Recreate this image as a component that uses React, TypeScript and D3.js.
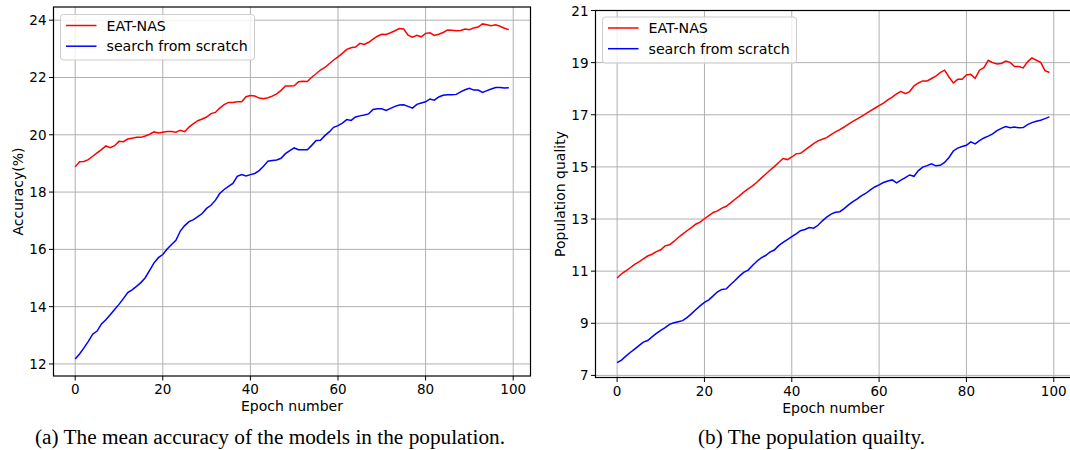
import * as d3 from "d3";
import React, { useEffect, useRef } from "react";

// epochs 0..99
const epochs = d3.range(0, 100);

// (a) mean accuracy of the models in the population
const accEatNas = [
  18.88, 19.06, 19.07, 19.13, 19.25, 19.37, 19.48, 19.61, 19.55, 19.62,
  19.77, 19.76, 19.85, 19.88, 19.91, 19.91, 19.96, 20.02, 20.10, 20.06,
  20.09, 20.11, 20.11, 20.09, 20.16, 20.11, 20.27, 20.39, 20.49, 20.55,
  20.62, 20.74, 20.78, 20.93, 21.05, 21.13, 21.13, 21.15, 21.15, 21.33,
  21.37, 21.35, 21.28, 21.26, 21.29, 21.35, 21.43, 21.55, 21.70, 21.70,
  21.71, 21.85, 21.87, 21.86, 22.01, 22.13, 22.26, 22.35, 22.48, 22.61,
  22.72, 22.84, 22.98, 23.04, 23.06, 23.19, 23.15, 23.23, 23.34, 23.44,
  23.51, 23.50, 23.56, 23.63, 23.71, 23.69, 23.48, 23.41, 23.47, 23.42,
  23.54, 23.56, 23.47, 23.51, 23.57, 23.66, 23.65, 23.63, 23.64, 23.69,
  23.67, 23.73, 23.76, 23.87, 23.84, 23.81, 23.84, 23.79, 23.72, 23.67,
];
const accScratch = [
  12.17, 12.35, 12.56, 12.79, 13.04, 13.15, 13.40, 13.54, 13.72, 13.90,
  14.08, 14.28, 14.49, 14.59, 14.71, 14.84, 15.01, 15.27, 15.53, 15.71,
  15.82, 16.01, 16.17, 16.32, 16.64, 16.83, 16.97, 17.04, 17.14, 17.25,
  17.43, 17.54, 17.71, 17.95, 18.09, 18.20, 18.30, 18.55, 18.61, 18.56,
  18.61, 18.65, 18.75, 18.90, 19.08, 19.10, 19.12, 19.18, 19.34, 19.45,
  19.54, 19.48, 19.48, 19.48, 19.63, 19.80, 19.81, 19.97, 20.10, 20.26,
  20.32, 20.41, 20.53, 20.50, 20.62, 20.66, 20.69, 20.73, 20.88, 20.91,
  20.91, 20.85, 20.92, 20.99, 21.04, 21.05, 20.99, 20.93, 21.06, 21.11,
  21.15, 21.25, 21.21, 21.32, 21.38, 21.40, 21.40, 21.41, 21.50, 21.57,
  21.62, 21.56, 21.56, 21.48, 21.54, 21.60, 21.65, 21.65, 21.63, 21.64,
];

// (b) population quality
const qualEatNas = [
  10.74, 10.90, 11.01, 11.13, 11.26, 11.36, 11.47, 11.58, 11.65, 11.75,
  11.82, 11.97, 12.01, 12.14, 12.29, 12.42, 12.55, 12.67, 12.80, 12.88,
  13.01, 13.13, 13.25, 13.31, 13.42, 13.49, 13.62, 13.76, 13.89, 14.03,
  14.16, 14.27, 14.41, 14.57, 14.72, 14.87, 15.01, 15.17, 15.32, 15.28,
  15.38, 15.50, 15.52, 15.64, 15.77, 15.89, 16.00, 16.06, 16.12, 16.24,
  16.34, 16.43, 16.53, 16.64, 16.75, 16.84, 16.94, 17.04, 17.15, 17.25,
  17.35, 17.45, 17.57, 17.68, 17.80, 17.90, 17.81, 17.89, 18.11, 18.22,
  18.30, 18.30, 18.39, 18.48, 18.62, 18.71, 18.45, 18.22, 18.36, 18.36,
  18.53, 18.55, 18.40, 18.71, 18.81, 19.09, 19.00, 18.95, 18.97, 19.06,
  19.01, 18.85, 18.85, 18.80, 19.03, 19.18, 19.09, 19.01, 18.69, 18.62,
];
const qualScratch = [
  7.49, 7.59, 7.74, 7.88, 8.01, 8.14, 8.28, 8.34, 8.48, 8.61,
  8.73, 8.83, 8.96, 9.02, 9.06, 9.10, 9.22, 9.36, 9.52, 9.67,
  9.80, 9.90, 10.05, 10.21, 10.30, 10.32, 10.49, 10.64, 10.81, 10.95,
  11.04, 11.22, 11.38, 11.51, 11.60, 11.73, 11.81, 11.98, 12.10, 12.21,
  12.32, 12.43, 12.55, 12.60, 12.67, 12.65, 12.76, 12.93, 13.07, 13.19,
  13.26, 13.28, 13.40, 13.54, 13.67, 13.77, 13.90, 13.99, 14.12, 14.23,
  14.31, 14.40, 14.46, 14.50, 14.39, 14.49, 14.59, 14.69, 14.64, 14.86,
  14.99, 15.05, 15.12, 15.04, 15.06, 15.17, 15.36, 15.61, 15.72, 15.78,
  15.83, 15.96, 15.88, 16.01, 16.11, 16.18, 16.27, 16.39, 16.48, 16.55,
  16.50, 16.53, 16.50, 16.51, 16.62, 16.70, 16.75, 16.79, 16.85, 16.92,
];

const xTicks = [0, 20, 40, 60, 80, 100];
const accTicks = [12, 14, 16, 18, 20, 22, 24];
const qualTicks = [7, 9, 11, 13, 15, 17, 19, 21];
const seriesNames = ["EAT-NAS", "search from scratch"];
const captions = [
  "(a) The mean accuracy of the models in the population.",
  "(b) The population quailty.",
];

const W = 1070;
const H = 450;
const FONT = "'DejaVu Sans', sans-serif";

type Panel = {
  left: number; right: number; top: number; bottom: number;
  yDomain: [number, number]; yTicks: number[]; yLabel: string;
  red: number[]; blue: number[];
  caption: string; captionX: number; captionW: number;
  legend: { x: number; y: number; w: number; h: number };
};

const panels: Panel[] = [
  {
    left: 53.5, right: 530.5, top: 7, bottom: 376,
    yDomain: [11.58, 24.46], yTicks: accTicks, yLabel: "Accuracy(%)",
    red: accEatNas, blue: accScratch,
    caption: captions[0], captionX: 35, captionW: 470,
    legend: { x: 60.5, y: 14.5, w: 194, h: 45.5 },
  },
  {
    left: 595.5, right: 1071, top: 10.5, bottom: 377.5,
    yDomain: [6.92, 21], yTicks: qualTicks, yLabel: "Population quality",
    red: qualEatNas, blue: qualScratch,
    caption: captions[1], captionX: 698, captionW: 227,
    legend: { x: 602.5, y: 17, w: 194, h: 46 },
  },
];

function drawPanel(svg: d3.Selection<SVGSVGElement, unknown, null, undefined>, p: Panel) {
  const x = d3.scaleLinear().domain([-4.95, 103.95]).range([p.left, p.right]);
  const y = d3.scaleLinear().domain(p.yDomain).range([p.bottom, p.top]);
  const g = svg.append("g");

  // grid
  g.selectAll(".gx").data(xTicks).enter().append("line")
    .attr("x1", (d) => x(d)).attr("x2", (d) => x(d))
    .attr("y1", p.top).attr("y2", p.bottom)
    .attr("stroke", "#b0b0b0").attr("stroke-width", 1);
  g.selectAll(".gy").data(p.yTicks).enter().append("line")
    .attr("x1", p.left).attr("x2", p.right)
    .attr("y1", (d) => y(d)).attr("y2", (d) => y(d))
    .attr("stroke", "#b0b0b0").attr("stroke-width", 1);

  // lines
  const line = (vals: number[]) =>
    d3.line<number>().x((_, i) => x(epochs[i])).y((d) => y(d))(vals);
  g.append("path").attr("d", line(p.blue)).attr("fill", "none")
    .attr("stroke", "#0000ff").attr("stroke-width", 1.5);
  g.append("path").attr("d", line(p.red)).attr("fill", "none")
    .attr("stroke", "#ff0000").attr("stroke-width", 1.5);

  // spines
  g.append("rect").attr("x", p.left).attr("y", p.top)
    .attr("width", p.right - p.left).attr("height", p.bottom - p.top)
    .attr("fill", "none").attr("stroke", "#000").attr("stroke-width", 1.2);

  // x ticks
  g.selectAll(".tx").data(xTicks).enter().append("line")
    .attr("x1", (d) => x(d)).attr("x2", (d) => x(d))
    .attr("y1", p.bottom).attr("y2", p.bottom + 4.5)
    .attr("stroke", "#000").attr("stroke-width", 1);
  g.selectAll(".lx").data(xTicks).enter().append("text")
    .attr("x", (d) => x(d)).attr("y", p.bottom + 18)
    .attr("text-anchor", "middle").attr("font-family", FONT)
    .attr("font-size", 13.5).attr("fill", "#000").text((d) => d);

  // y ticks
  g.selectAll(".ty").data(p.yTicks).enter().append("line")
    .attr("x1", p.left - 4.5).attr("x2", p.left)
    .attr("y1", (d) => y(d)).attr("y2", (d) => y(d))
    .attr("stroke", "#000").attr("stroke-width", 1);
  g.selectAll(".ly").data(p.yTicks).enter().append("text")
    .attr("x", p.left - 7).attr("y", (d) => y(d) + 5)
    .attr("text-anchor", "end").attr("font-family", FONT)
    .attr("font-size", 13.5).attr("fill", "#000").text((d) => d);

  // axis labels
  g.append("text")
    .attr("x", (p.left + p.right) / 2).attr("y", p.bottom + 35)
    .attr("text-anchor", "middle").attr("font-family", FONT)
    .attr("font-size", 14).attr("fill", "#000").text("Epoch number");
  const ylx = p.left - 31;
  const yly = (p.top + p.bottom) / 2;
  g.append("text")
    .attr("transform", `translate(${ylx},${yly}) rotate(-90)`)
    .attr("text-anchor", "middle").attr("font-family", FONT)
    .attr("font-size", 14).attr("fill", "#000").text(p.yLabel);

  // legend
  const lg = g.append("g");
  lg.append("rect").attr("x", p.legend.x).attr("y", p.legend.y)
    .attr("width", p.legend.w).attr("height", p.legend.h)
    .attr("rx", 3).attr("fill", "#fff").attr("fill-opacity", 0.8)
    .attr("stroke", "#cccccc").attr("stroke-width", 1);
  [["#ff0000", seriesNames[0]], ["#0000ff", seriesNames[1]]].forEach(([c, name], i) => {
    const ly = p.legend.y + 11 + i * 20.7;
    lg.append("line").attr("x1", p.legend.x + 5.5).attr("x2", p.legend.x + 36)
      .attr("y1", ly).attr("y2", ly).attr("stroke", c).attr("stroke-width", 1.5);
    lg.append("text").attr("x", p.legend.x + 46).attr("y", ly + 5)
      .attr("font-family", FONT).attr("font-size", 14.2).attr("fill", "#000").text(name);
  });

  // caption
  svg.append("text")
    .attr("x", p.captionX).attr("y", 444)
    .attr("textLength", p.captionW).attr("lengthAdjust", "spacingAndGlyphs")
    .attr("font-family", "'Liberation Serif', 'Times New Roman', serif")
    .attr("font-size", 20).attr("fill", "#000").text(p.caption);
}

export default function App() {
  const svgRef = useRef<SVGSVGElement>(null);

  useEffect(() => {
    const svg = d3.select(svgRef.current!);
    svg.selectAll("*").remove();
    svg.append("rect").attr("width", W).attr("height", H).attr("fill", "#fff");
    panels.forEach((p) => drawPanel(svg, p));
  }, []);

  return (
    <svg
      ref={svgRef}
      width={W}
      height={H}
      style={{ position: "absolute", left: 0, top: 0, display: "block" }}
    />
  );
}
